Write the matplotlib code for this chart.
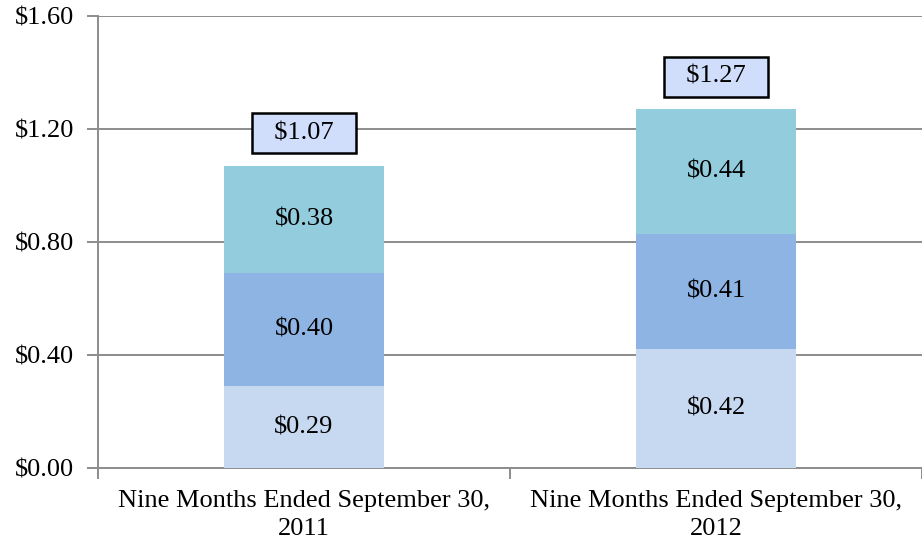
import matplotlib
matplotlib.use("Agg")
import matplotlib.pyplot as plt
import numpy as np

categories = ["Nine Months Ended September 30,\n2011", "Nine Months Ended September 30,\n2012"]
bottom_vals = [0.29, 0.42]
middle_vals = [0.40, 0.41]
top_vals = [0.38, 0.44]
totals = [1.07, 1.27]
yticks = [0.0, 0.4, 0.8, 1.2, 1.6]
ytick_labels = ["$0.00", "$0.40", "$0.80", "$1.20", "$1.60"]

plt.rcParams['font.family'] = ['Liberation Serif', 'DejaVu Serif']

fig = plt.figure(figsize=(9.22, 5.47), dpi=100)
ax = fig.add_axes([98/922, 79/547, (922-98)/922, 452/547])

x = np.arange(len(categories))
w = 0.39
c_bot, c_mid, c_top = "#C6D9F1", "#8EB4E3", "#93CDDD"
b1 = np.array(bottom_vals)
b2 = b1 + np.array(middle_vals)
ax.bar(x, bottom_vals, w, color=c_bot, zorder=3)
ax.bar(x, middle_vals, w, bottom=b1, color=c_mid, zorder=3)
ax.bar(x, top_vals, w, bottom=b2, color=c_top, zorder=3)

fs = 19
for i in range(len(x)):
    ax.text(x[i], bottom_vals[i] / 2, f"${bottom_vals[i]:.2f}", ha="center", va="center", fontsize=fs, zorder=4)
    ax.text(x[i], b1[i] + middle_vals[i] / 2, f"${middle_vals[i]:.2f}", ha="center", va="center", fontsize=fs, zorder=4)
    ax.text(x[i], b2[i] + top_vals[i] / 2, f"${top_vals[i]:.2f}", ha="center", va="center", fontsize=fs, zorder=4)
    ax.text(x[i], totals[i] + 0.115, f"  ${totals[i]:.2f}  ", ha="center", va="center", fontsize=fs, zorder=5,
            bbox=dict(boxstyle="square,pad=0.34", facecolor="#D0DEFC", edgecolor="black", linewidth=1.8))

ax.set_ylim(0, 1.6)
ax.set_xlim(-0.5, -0.5 + 1.94)
ax.set_yticks(yticks)
ax.set_yticklabels(ytick_labels, fontsize=fs)
ax.yaxis.grid(True, color="#8C8C8C", linewidth=1.4, zorder=0)
ax.set_axisbelow(True)

ax.set_xticks(x)
ax.set_xticklabels(categories, fontsize=fs, linespacing=1.35)
ax.set_xticks([-0.5, 0.5, 1.5], minor=True)
ax.tick_params(axis="x", which="major", length=0, pad=16)
ax.tick_params(axis="x", which="minor", length=8, width=1.4, color="#8C8C8C", direction="out")
ax.tick_params(axis="y", length=8, width=1.4, color="#8C8C8C", direction="out", pad=9)

for s in ["top", "right"]:
    ax.spines[s].set_visible(False)
for s in ["left", "bottom"]:
    ax.spines[s].set_color("#8C8C8C")
    ax.spines[s].set_linewidth(1.4)

fig.savefig("out.png", dpi=100)
